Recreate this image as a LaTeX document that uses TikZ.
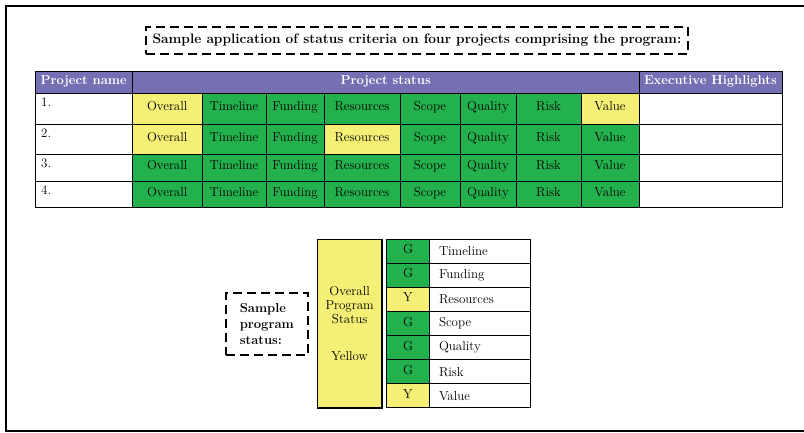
\documentclass[tikz,border=0pt]{standalone}
\usepackage{tikz}
\usetikzlibrary{positioning}

\definecolor{hdrpurple}{RGB}{117,112,179}
\definecolor{stgreen}{RGB}{34,177,76}
\definecolor{styellow}{RGB}{245,240,117}

\begin{document}
\begin{tikzpicture}
		[x=1pt,y=-1pt,
		cell/.style={draw,anchor=north west,inner sep=0pt,outer sep=0pt,line width=0.9pt,font=\fontsize{13}{14}\selectfont},
		even/.style={text height=1.6ex,text depth=.45ex},
		grn/.style={cell,even,fill=stgreen},
		ylw/.style={cell,even,fill=styellow},
		wht/.style={cell,even,fill=white},
		hdr/.style={cell,even,fill=hdrpurple,text=white,minimum height=22pt,font=\fontsize{13}{14}\selectfont\bfseries},
		num/.style={anchor=north west,inner xsep=6pt,inner ysep=5pt,font=\fontsize{13}{14}\selectfont},
		lbl/.style={anchor=west,inner xsep=9.5pt,inner ysep=0pt,font=\fontsize{13}{14}\selectfont},
		dash box/.style={draw,anchor=north west,dash pattern=on 9pt off 5pt,line width=1.9pt,inner sep=0pt,font=\fontsize{13.7}{15.5}\selectfont\bfseries},
		% column widths and row heights of the table
		wpn/.style={minimum width=97.5pt}, wov/.style={minimum width=69.5pt},
		wtl/.style={minimum width=64pt},   wfd/.style={minimum width=58pt},
		wrs/.style={minimum width=76pt},   wsc/.style={minimum width=60pt},
		wql/.style={minimum width=56pt},   wrk/.style={minimum width=65pt},
		wvl/.style={minimum width=58pt},   weh/.style={minimum width=143pt},
		r1/.style={minimum height=31pt}, r2/.style={minimum height=30pt},
		r3/.style={minimum height=27pt}, r4/.style={minimum height=26pt},
		gy/.style={minimum width=42.6pt,minimum height=24.1pt},
		tx/.style={minimum width=100.7pt,minimum height=24.1pt}]
		
		\useasboundingbox (0,0) rectangle (804,433);
		
		% frame, open on the right
		\draw[line width=2pt] (804,6) -- (6,6) -- (6,431) -- (804,431);
		
		\node [dash box,minimum width=542pt,minimum height=27pt] (title) at (145,26) {Sample application of status criteria on four projects comprising the program:};
		
		% header
		\node [hdr,wpn] (pname) at (35,71) {Project name};
		\node [hdr,minimum width=506.5pt] (pstat) at (132.5,71) {Project status};
		\node [hdr,weh] (exhi) at (639,71) {Executive Highlights};
		
		% project 1
		\node [wht,wpn,r1,label={[num]north west:1.}] (pn1) at (35,93) {};
		\node [ylw,wov,r1] (ov1) at (132.5,93) {Overall};
		\node [grn,wtl,r1] (tl1) at (202,93) {Timeline};
		\node [grn,wfd,r1] (fd1) at (266,93) {Funding};
		\node [grn,wrs,r1] (rs1) at (324,93) {Resources};
		\node [grn,wsc,r1] (sc1) at (400,93) {Scope};
		\node [grn,wql,r1] (ql1) at (460,93) {Quality};
		\node [grn,wrk,r1] (rk1) at (516,93) {Risk};
		\node [ylw,wvl,r1] (vl1) at (581,93) {Value};
		\node [wht,weh,r1] (eh1) at (639,93) {};
		
		% project 2
		\node [wht,wpn,r2,label={[num]north west:2.}] (pn2) at (35,124) {};
		\node [ylw,wov,r2] (ov2) at (132.5,124) {Overall};
		\node [grn,wtl,r2] (tl2) at (202,124) {Timeline};
		\node [grn,wfd,r2] (fd2) at (266,124) {Funding};
		\node [ylw,wrs,r2] (rs2) at (324,124) {Resources};
		\node [grn,wsc,r2] (sc2) at (400,124) {Scope};
		\node [grn,wql,r2] (ql2) at (460,124) {Quality};
		\node [grn,wrk,r2] (rk2) at (516,124) {Risk};
		\node [grn,wvl,r2] (vl2) at (581,124) {Value};
		\node [wht,weh,r2] (eh2) at (639,124) {};
		
		% project 3
		\node [wht,wpn,r3,label={[num]north west:3.}] (pn3) at (35,154) {};
		\node [grn,wov,r3] (ov3) at (132.5,154) {Overall};
		\node [grn,wtl,r3] (tl3) at (202,154) {Timeline};
		\node [grn,wfd,r3] (fd3) at (266,154) {Funding};
		\node [grn,wrs,r3] (rs3) at (324,154) {Resources};
		\node [grn,wsc,r3] (sc3) at (400,154) {Scope};
		\node [grn,wql,r3] (ql3) at (460,154) {Quality};
		\node [grn,wrk,r3] (rk3) at (516,154) {Risk};
		\node [grn,wvl,r3] (vl3) at (581,154) {Value};
		\node [wht,weh,r3] (eh3) at (639,154) {};
		
		% project 4
		\node [wht,wpn,r4,label={[num]north west:4.}] (pn4) at (35,181) {};
		\node [grn,wov,r4] (ov4) at (132.5,181) {Overall};
		\node [grn,wtl,r4] (tl4) at (202,181) {Timeline};
		\node [grn,wfd,r4] (fd4) at (266,181) {Funding};
		\node [grn,wrs,r4] (rs4) at (324,181) {Resources};
		\node [grn,wsc,r4] (sc4) at (400,181) {Scope};
		\node [grn,wql,r4] (ql4) at (460,181) {Quality};
		\node [grn,wrk,r4] (rk4) at (516,181) {Risk};
		\node [grn,wvl,r4] (vl4) at (581,181) {Value};
		\node [wht,weh,r4] (eh4) at (639,181) {};
		
		% program status
		\node [dash box,minimum width=81.7pt,minimum height=62.3pt,align=left,font=\fontsize{13}{16}\selectfont\bfseries] (sps) at (225,291.7) {Sample\\program\\status:};
		\node [cell,fill=styellow,line width=1.2pt,minimum width=64.7pt,minimum height=168.7pt,align=center] (ops) at (317.3,239.3) {Overall\\Program\\Status\\[23pt]Yellow};
		
		\node [grn,gy] (g1) at (386.7,239.3) {G};
		\node [grn,gy] (g2) at (386.7,263.3) {G};
		\node [ylw,gy] (g3) at (386.7,287.4) {Y};
		\node [grn,gy] (g4) at (386.7,311.5) {G};
		\node [grn,gy] (g5) at (386.7,335.6) {G};
		\node [grn,gy] (g6) at (386.7,359.7) {G};
		\node [ylw,gy] (g7) at (386.7,383.8) {Y};
		
		\node [wht,tx,label={[lbl]west:Timeline}] (c1) at (429.3,239.3) {};
		\node [wht,tx,label={[lbl]west:Funding}] (c2) at (429.3,263.3) {};
		\node [wht,tx,label={[lbl]west:Resources}] (c3) at (429.3,287.4) {};
		\node [wht,tx,label={[lbl]west:Scope}] (c4) at (429.3,311.5) {};
		\node [wht,tx,label={[lbl]west:Quality}] (c5) at (429.3,335.6) {};
		\node [wht,tx,label={[lbl]west:Risk}] (c6) at (429.3,359.7) {};
		\node [wht,tx,label={[lbl]west:Value}] (c7) at (429.3,383.8) {};
		
\end{tikzpicture}
\end{document}
